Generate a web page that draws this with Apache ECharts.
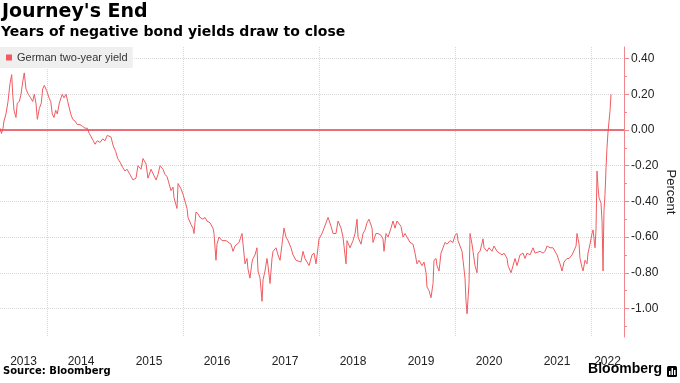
<!DOCTYPE html>
<html><head><meta charset="utf-8">
<script src="https://cdn.jsdelivr.net/npm/echarts@6/dist/echarts.min.js"></script>
<style>html,body{margin:0;padding:0;background:#fff}#c{width:680px;height:383px}</style>
</head><body><div id="c"></div>
<script>
// ---- data ----
const seriesName = 'German two-year yield';
const titleText = "Journey's End";
const subtitleText = 'Years of negative bond yields draw to close';
const sourceText = 'Source: Bloomberg';

// dates as decimal years
const decimalYears = [
2013.309,2013.331,2013.353,2013.368,2013.397,2013.427,2013.456,2013.481,2013.496,2013.515,
2013.544,2013.563,2013.593,2013.618,2013.643,2013.666,2013.691,2013.725,2013.760,2013.790,
2013.813,2013.838,2013.858,2013.887,2013.916,2013.937,2013.960,2013.996,2014.030,2014.055,
2014.078,2014.103,2014.128,2014.152,2014.181,2014.206,2014.225,2014.250,2014.280,2014.305,
2014.328,2014.349,2014.378,2014.412,2014.446,2014.485,2014.525,2014.559,2014.593,2014.622,
2014.647,2014.681,2014.706,2014.740,2014.780,2014.819,2014.853,2014.887,2014.916,2014.941,
2014.975,2015.010,2015.040,2015.074,2015.113,2015.147,2015.177,2015.221,2015.265,2015.309,
2015.338,2015.383,2015.412,2015.456,2015.485,2015.530,2015.559,2015.603,2015.633,2015.662,
2015.706,2015.735,2015.765,2015.794,2015.824,2015.853,2015.868,2015.912,2015.927,2015.971,
2016.000,2016.030,2016.059,2016.074,2016.118,2016.147,2016.162,2016.191,2016.221,2016.250,
2016.294,2016.324,2016.353,2016.397,2016.441,2016.456,2016.485,2016.500,2016.530,2016.574,
2016.603,2016.633,2016.662,2016.706,2016.735,2016.765,2016.794,2016.824,2016.868,2016.883,
2016.912,2016.941,2016.956,2016.985,2017.015,2017.030,2017.059,2017.088,2017.103,2017.133,
2017.162,2017.177,2017.206,2017.235,2017.250,2017.280,2017.309,2017.324,2017.368,2017.397,
2017.427,2017.456,2017.485,2017.515,2017.544,2017.588,2017.618,2017.662,2017.691,2017.735,
2017.765,2017.794,2017.824,2017.853,2017.897,2017.927,2017.956,2017.985,2018.000,2018.044,
2018.074,2018.103,2018.133,2018.177,2018.206,2018.250,2018.280,2018.324,2018.353,2018.397,
2018.412,2018.456,2018.500,2018.530,2018.559,2018.574,2018.618,2018.647,2018.677,2018.706,
2018.735,2018.780,2018.794,2018.838,2018.868,2018.912,2018.941,2018.956,2018.985,2019.015,
2019.059,2019.088,2019.118,2019.147,2019.162,2019.206,2019.235,2019.265,2019.294,2019.338,
2019.383,2019.412,2019.441,2019.471,2019.515,2019.544,2019.574,2019.588,2019.618,2019.647,
2019.677,2019.691,2019.721,2019.735,2019.765,2019.794,2019.824,2019.853,2019.883,2019.927,
2019.971,2020.000,2020.030,2020.044,2020.074,2020.103,2020.118,2020.147,2020.162,2020.177,
2020.206,2020.221,2020.250,2020.265,2020.294,2020.324,2020.338,2020.368,2020.412,2020.427,
2020.471,2020.500,2020.544,2020.574,2020.618,2020.647,2020.691,2020.721,2020.765,2020.780,
2020.824,2020.853,2020.883,2020.912,2020.956,2021.000,2021.030,2021.059,2021.103,2021.147,
2021.177,2021.206,2021.250,2021.294,2021.324,2021.353,2021.397,2021.441,2021.471,2021.500,
2021.544,2021.574,2021.603,2021.647,2021.677,2021.721,2021.750,2021.780,2021.794,2021.824,
2021.838,2021.868,2021.883,2021.912,2021.941,2021.956,2021.985,2022.015,2022.030,2022.059,
2022.074,2022.088,2022.103,2022.118,2022.147,2022.162,2022.177,2022.184,2022.191,2022.206,
2022.221,2022.235,2022.250,2022.265,2022.280,2022.294
];
// yield, percent
const yields = [
0.01,-0.02,0.01,0.05,0.09,0.16,0.26,0.31,0.20,0.11,
0.07,0.15,0.16,0.20,0.27,0.32,0.23,0.20,0.18,0.16,
0.20,0.15,0.06,0.12,0.15,0.23,0.25,0.22,0.18,0.16,
0.09,0.07,0.11,0.09,0.15,0.18,0.20,0.18,0.20,0.16,
0.15,0.09,0.06,0.05,0.03,0.03,0.02,0.01,0.01,-0.02,
-0.03,-0.06,-0.08,-0.06,-0.07,-0.05,-0.06,-0.03,-0.02,-0.04,
-0.09,-0.12,-0.16,-0.18,-0.21,-0.23,-0.22,-0.25,-0.28,-0.27,
-0.20,-0.22,-0.16,-0.19,-0.27,-0.22,-0.23,-0.28,-0.25,-0.20,
-0.22,-0.25,-0.26,-0.27,-0.34,-0.32,-0.38,-0.44,-0.30,-0.33,
-0.36,-0.40,-0.44,-0.49,-0.53,-0.55,-0.58,-0.46,-0.47,-0.49,
-0.50,-0.49,-0.51,-0.52,-0.55,-0.58,-0.73,-0.64,-0.60,-0.62,
-0.61,-0.62,-0.62,-0.64,-0.68,-0.65,-0.66,-0.63,-0.58,-0.64,
-0.75,-0.72,-0.78,-0.83,-0.74,-0.72,-0.70,-0.66,-0.79,-0.83,
-0.96,-0.84,-0.79,-0.72,-0.76,-0.86,-0.72,-0.68,-0.66,-0.70,
-0.73,-0.64,-0.55,-0.60,-0.62,-0.66,-0.70,-0.73,-0.72,-0.74,
-0.68,-0.72,-0.74,-0.76,-0.70,-0.69,-0.75,-0.66,-0.61,-0.58,
-0.55,-0.56,-0.49,-0.54,-0.58,-0.58,-0.51,-0.55,-0.60,-0.75,
-0.62,-0.66,-0.62,-0.58,-0.50,-0.60,-0.64,-0.58,-0.56,-0.52,
-0.50,-0.55,-0.63,-0.58,-0.58,-0.59,-0.61,-0.68,-0.58,-0.60,
-0.55,-0.51,-0.55,-0.51,-0.50,-0.54,-0.60,-0.58,-0.60,-0.63,
-0.64,-0.69,-0.75,-0.73,-0.76,-0.74,-0.80,-0.88,-0.90,-0.94,
-0.86,-0.73,-0.72,-0.76,-0.79,-0.69,-0.66,-0.63,-0.64,-0.62,
-0.63,-0.59,-0.58,-0.62,-0.65,-0.68,-0.73,-0.83,-0.96,-1.03,
-0.86,-0.58,-0.64,-0.68,-0.76,-0.80,-0.69,-0.68,-0.61,-0.66,
-0.68,-0.66,-0.68,-0.65,-0.68,-0.69,-0.70,-0.69,-0.72,-0.76,
-0.80,-0.76,-0.72,-0.76,-0.70,-0.69,-0.72,-0.69,-0.70,-0.66,
-0.69,-0.69,-0.68,-0.69,-0.68,-0.65,-0.66,-0.66,-0.68,-0.70,
-0.75,-0.79,-0.74,-0.72,-0.72,-0.70,-0.69,-0.65,-0.58,-0.64,
-0.72,-0.77,-0.79,-0.73,-0.75,-0.69,-0.64,-0.58,-0.56,-0.66,
-0.55,-0.23,-0.32,-0.38,-0.41,-0.51,-0.79,-0.60,-0.45,-0.36,
-0.21,-0.10,-0.01,0.05,0.11,0.20
];

// axis ticks / labels
const xLabelYears = [2013,2014,2015,2016,2017,2018,2019,2020,2021,2022];
const xGridYears = [2014,2016,2018,2020,2022];
const yMajorTicks = [-1.0,-0.8,-0.6,-0.4,-0.2,0,0.2,0.4];
const yMinorTicks = [-1.1,-0.9,-0.7,-0.5,-0.3,-0.1,0.1,0.3];
const axisStartYear = 2013.309, axisEndYear = 2022.485;
const yMin = -1.16, yMax = 0.465;

// label sits in the middle of the visible part of each year
const labelPos = xLabelYears.map(function(y){
  const lo = Math.max(y, axisStartYear), hi = Math.min(y+1, axisEndYear);
  return (lo+hi)/2;
});
const seriesData = decimalYears.map(function(d,i){ return [d, yields[i]]; });

const LINE = '#ef5b60';
const AXIS = '#f0868b';
const GRID = '#d8d8d8';
const FONT = 'Liberation Sans';
const HEAD = 'DejaVu Sans';

const chart = echarts.init(document.getElementById('c'), null, {renderer:'canvas'});
chart.setOption({
  animation:false,
  backgroundColor:'#ffffff',
  textStyle:{fontFamily:FONT},
  title:[
    {text:titleText, left:0, top:1, padding:[2,2,2,2],
      textStyle:{fontSize:19, fontWeight:900, fontFamily:HEAD, color:'#000'}},
    {text:subtitleText, left:0, top:23, padding:[2,1,2,1],
      textStyle:{fontSize:14, fontWeight:900, fontFamily:HEAD, color:'#000'}},
    {text:sourceText, left:1, top:364, padding:[2,2,2,2],
      textStyle:{fontSize:10, fontWeight:900, fontFamily:HEAD, color:'#000'}},
    {text:'Bloomberg', right:16, top:360, padding:[2,2,2,2],
      textStyle:{fontSize:14, fontWeight:'bold', fontFamily:FONT, color:'#000'}}
  ],
  grid:{left:0,right:56,top:47,bottom:46,containLabel:false,outerBoundsMode:'none'},
  legend:{
    data:[{name:seriesName, icon:'rect'}],
    left:0, top:47, itemWidth:6, itemHeight:6,
    backgroundColor:'#efefef', padding:[5,5,5,6],
    textStyle:{fontSize:11,color:'#333',fontFamily:FONT}
  },
  xAxis:{
    type:'value', min:axisStartYear, max:axisEndYear,
    axisLine:{show:false},
    axisTick:{show:false, customValues:xGridYears},
    splitLine:{show:true, lineStyle:{type:'dotted', color:GRID, width:1}},
    axisLabel:{customValues:labelPos, margin:19, fontSize:12, color:'#222', fontFamily:FONT,
      hideOverlap:false,
      formatter:function(v){ return String(Math.floor(v)); }}
  },
  yAxis:[{
    type:'value', position:'right', min:yMin, max:yMax,
    name:'Percent', nameLocation:'middle', nameRotate:-90, nameGap:40, nameMoveOverlap:false,
    nameTextStyle:{fontSize:13,color:'#222',fontFamily:FONT},
    axisLine:{show:true, lineStyle:{color:AXIS, width:1}},
    axisTick:{show:true, length:5, customValues:yMajorTicks, lineStyle:{color:AXIS}},
    axisLabel:{customValues:yMajorTicks, margin:7, fontSize:12, color:'#222', fontFamily:FONT,
      formatter:function(v){ return v.toFixed(2); }},
    splitLine:{show:true, lineStyle:{type:'dotted', color:GRID, width:1}}
  },{
    type:'value', position:'right', min:yMin, max:yMax,
    axisLine:{show:false},
    axisTick:{show:true, length:3, customValues:yMinorTicks, lineStyle:{color:AXIS}},
    axisLabel:{show:false},
    splitLine:{show:false}
  }],
  series:[{
    name:seriesName, type:'line', data:seriesData, showSymbol:false,
    color:LINE, lineStyle:{color:LINE, width:1}, itemStyle:{color:LINE},
    markLine:{silent:true, symbol:'none', label:{show:false},
      lineStyle:{color:'#e8414f', width:1.5, type:'solid'},
      data:[{yAxis:0}]}
  }],
  graphic:[
    {type:'group', right:3, top:366, children:[
      {type:'rect', shape:{x:0,y:0,width:10,height:11,r:1.5}, style:{fill:'#000'}},
      {type:'rect', shape:{x:2,y:5,width:1.5,height:4}, style:{fill:'#fff'}},
      {type:'rect', shape:{x:4.5,y:2,width:1.5,height:7}, style:{fill:'#fff'}},
      {type:'rect', shape:{x:7,y:4,width:1.5,height:5}, style:{fill:'#fff'}}
    ]}
  ]
});
</script></body></html>
